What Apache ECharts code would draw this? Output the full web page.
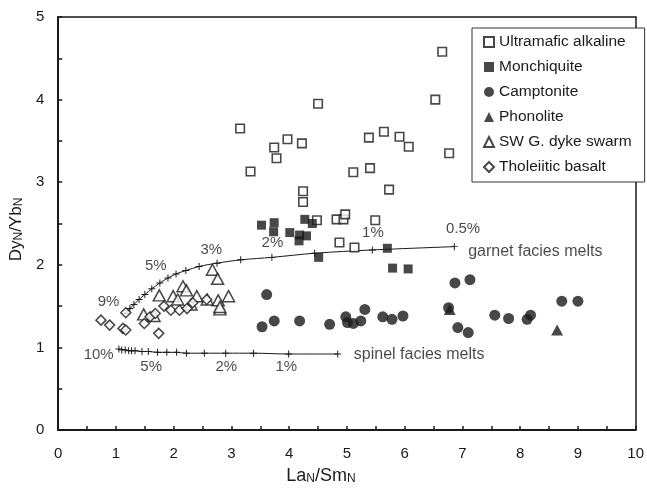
<!DOCTYPE html>
<html>
<head>
<meta charset="utf-8">
<script src="https://cdn.jsdelivr.net/npm/echarts@6/dist/echarts.min.js"></script>
<style>
html,body{margin:0;padding:0;background:#fff;}
#chart{width:647px;height:490px;}
</style>
</head>
<body>
<div id="chart"></div>
<script>
// ---- data (La_N/Sm_N, Dy_N/Yb_N) ----
const ultraX = [3.15,3.33,3.74,3.78,3.97,4.22,4.24,4.24,4.50,4.48,4.82,4.94,4.97,4.87,5.13,5.11,5.40,5.38,5.64,5.91,6.07,5.73,5.49,6.53,6.65,6.77];
const ultraY = [3.65,3.13,3.42,3.29,3.52,3.47,2.89,2.76,3.95,2.54,2.55,2.55,2.61,2.27,2.21,3.12,3.17,3.54,3.61,3.55,3.43,2.91,2.54,4.00,4.58,3.35];

const monchX = [3.52,3.74,3.73,4.01,4.18,4.30,4.17,4.27,4.40,4.51,5.70,5.79,6.06];
const monchY = [2.48,2.51,2.40,2.39,2.36,2.35,2.29,2.55,2.50,2.09,2.20,1.96,1.95];

const camptX = [3.61,3.74,3.53,4.18,4.70,4.98,5.01,5.11,5.24,5.31,5.62,5.78,5.97,6.76,6.87,7.13,6.92,7.10,7.56,7.80,8.12,8.18,8.72,9.00];
const camptY = [1.64,1.32,1.25,1.32,1.28,1.37,1.30,1.29,1.32,1.46,1.37,1.34,1.38,1.48,1.78,1.82,1.24,1.18,1.39,1.35,1.34,1.39,1.56,1.56];

const phonoX = [6.78,8.64];
const phonoY = [1.46,1.21];

const swgX = [1.48,1.66,1.75,1.99,2.07,2.16,2.22,2.30,2.40,2.58,2.67,2.76,2.77,2.80,2.80,2.95];
const swgY = [1.40,1.38,1.63,1.62,1.58,1.74,1.69,1.52,1.62,1.58,1.94,1.83,1.57,1.46,1.49,1.62];

const tholX = [0.74,0.89,1.12,1.17,1.17,1.49,1.59,1.68,1.74,1.83,1.95,2.10,2.23,2.33,2.57];
const tholY = [1.33,1.27,1.23,1.21,1.42,1.29,1.37,1.41,1.17,1.50,1.45,1.45,1.47,1.54,1.58];

// melting curves
const garnetX = [1.17,1.24,1.31,1.40,1.50,1.62,1.76,1.90,2.04,2.21,2.44,2.75,3.16,3.70,4.44,5.44,6.86];
const garnetY = [1.41,1.47,1.52,1.58,1.64,1.71,1.78,1.84,1.89,1.93,1.98,2.02,2.06,2.09,2.14,2.18,2.22];

const spinelX = [1.05,1.10,1.16,1.22,1.27,1.33,1.45,1.56,1.72,1.88,2.05,2.22,2.53,2.90,3.38,3.99,4.84];
const spinelY = [0.98,0.97,0.97,0.96,0.96,0.96,0.95,0.95,0.94,0.94,0.94,0.93,0.93,0.93,0.93,0.92,0.92];

// curve annotations (centered)
const annoText = ['0.5%','1%','2%','3%','5%','9%','10%','5%','2%','1%'];
const annoX    = [7.01,5.45,3.71,2.65,1.69,0.87,0.70,1.61,2.91,3.95];
const annoY    = [2.44,2.39,2.27,2.18,1.99,1.55,0.91,0.77,0.77,0.77];
// curve names (left aligned)
const curveNameText = ['garnet facies melts','spinel facies melts'];
const curveNameX = [7.09,5.11];
const curveNameY = [2.16,0.91];

const xTicks = [0,1,2,3,4,5,6,7,8,9,10];
const yTicks = [0,1,2,3,4,5];

// ---- build ----
const zip = (xs, ys) => xs.map((x, i) => [x, ys[i]]);
const FONT = '"Liberation Sans", Arial, Helvetica, sans-serif';
const INK = '#1a1a1a';
const plusPath = 'path://M4.3,0H5.7V4.3H10V5.7H5.7V10H4.3V5.7H0V4.3H4.3Z';

const chart = echarts.init(document.getElementById('chart'), null, {renderer: 'canvas'});

const intFmt = v => (Math.abs(v - Math.round(v)) < 1e-9 ? String(Math.round(v)) : '');

const option = {
  backgroundColor: '#fff',
  animation: false,
  textStyle: {fontFamily: FONT},
  grid: {left: 52, right: 10, top: 17, bottom: 56},
  legend: {
    orient: 'vertical',
    left: 472, top: 28,
    padding: [6, 13, 7, 11],
    itemGap: 9,
    itemWidth: 10, itemHeight: 10,
    borderColor: '#333', borderWidth: 1,
    backgroundColor: '#fff',
    textStyle: {fontFamily: FONT, fontSize: 15.5, color: INK, lineHeight: 16},
    data: ['Ultramafic alkaline','Monchiquite','Camptonite','Phonolite','SW G. dyke swarm','Tholeiitic basalt'],
    selectedMode: false
  },
  xAxis: [{
    type: 'value', min: 0, max: 10, interval: 0.5,
    name: '{a|La}{s|N}{a|/Sm}{s|N}', nameLocation: 'middle', nameGap: 33,
    nameTextStyle: {padding: [0, 52, 0, 0], rich: {a: {fontSize: 18, fontFamily: FONT, color: INK, verticalAlign: 'bottom', lineHeight: 22}, s: {fontSize: 12, fontFamily: FONT, color: INK, verticalAlign: 'bottom', lineHeight: 17}}},
    axisLine: {show: true, onZero: false, lineStyle: {color: INK, width: 2}},
    axisTick: {show: true, inside: true, length: 4, lineStyle: {color: INK, width: 1.5}},
    axisLabel: {show: true, margin: 16, fontSize: 15, color: INK, fontFamily: FONT, formatter: intFmt},
    splitLine: {show: false}
  }, {
    type: 'value', min: 0, max: 10, position: 'top',
    axisLine: {show: true, onZero: false, lineStyle: {color: INK, width: 1.5}},
    axisTick: {show: false}, axisLabel: {show: false}, splitLine: {show: false}
  }],
  yAxis: [{
    type: 'value', min: 0, max: 5, interval: 0.5,
    name: '{a|Dy}{s|N}{a|/Yb}{s|N}', nameLocation: 'middle', nameGap: 26, nameRotate: 90,
    nameTextStyle: {padding: [0, 12, 0, 0], rich: {a: {fontSize: 17, fontFamily: FONT, color: INK, verticalAlign: 'bottom', lineHeight: 21}, s: {fontSize: 12, fontFamily: FONT, color: INK, verticalAlign: 'bottom', lineHeight: 16}}},
    axisLine: {show: true, onZero: false, lineStyle: {color: INK, width: 2}},
    axisTick: {show: true, inside: true, length: 4, lineStyle: {color: INK, width: 1.5}},
    axisLabel: {show: true, margin: 14, fontSize: 15, color: INK, fontFamily: FONT, formatter: intFmt},
    splitLine: {show: false}
  }, {
    type: 'value', min: 0, max: 5, position: 'right',
    axisLine: {show: true, onZero: false, lineStyle: {color: INK, width: 1.5}},
    axisTick: {show: false}, axisLabel: {show: false}, splitLine: {show: false}
  }],
  series: [
    {
      name: 'garnet', type: 'line', data: zip(garnetX, garnetY), smooth: 0.3,
      symbol: plusPath, symbolSize: 7, showSymbol: true,
      lineStyle: {color: INK, width: 1}, itemStyle: {color: INK, borderWidth: 0},
      silent: true, z: 2
    },
    {
      name: 'spinel', type: 'line', data: zip(spinelX, spinelY), smooth: 0.3,
      symbol: plusPath, symbolSize: 7, showSymbol: true,
      lineStyle: {color: INK, width: 1}, itemStyle: {color: INK, borderWidth: 0},
      silent: true, z: 2
    },
    {
      name: 'Ultramafic alkaline', type: 'scatter', symbol: 'rect', symbolSize: 8.5,
      data: zip(ultraX, ultraY),
      itemStyle: {color: '#fff', borderColor: INK, borderWidth: 1.6}, z: 3
    },
    {
      name: 'Monchiquite', type: 'scatter', symbol: 'rect', symbolSize: 9,
      data: zip(monchX, monchY),
      itemStyle: {color: INK, borderColor: INK, borderWidth: 0}, z: 4
    },
    {
      name: 'Camptonite', type: 'scatter', symbol: 'circle', symbolSize: 11,
      data: zip(camptX, camptY),
      itemStyle: {color: INK, borderWidth: 0}, z: 4
    },
    {
      name: 'Phonolite', type: 'scatter', symbol: 'triangle', symbolSize: [12, 11],
      data: zip(phonoX, phonoY),
      itemStyle: {color: INK, borderWidth: 0}, z: 5
    },
    {
      name: 'SW G. dyke swarm', type: 'scatter', symbol: 'triangle', symbolSize: [12, 11],
      data: zip(swgX, swgY),
      itemStyle: {color: '#fff', borderColor: INK, borderWidth: 1.5}, z: 3
    },
    {
      name: 'Tholeiitic basalt', type: 'scatter', symbol: 'diamond', symbolSize: 10,
      data: zip(tholX, tholY),
      itemStyle: {color: '#fff', borderColor: INK, borderWidth: 1.5}, z: 3
    },
    {
      name: 'anno', type: 'scatter', symbolSize: 1, silent: true, z: 6,
      data: annoX.map((x, i) => [x, annoY[i], annoText[i]]),
      itemStyle: {color: 'rgba(0,0,0,0)'},
      label: {show: true, position: 'inside', formatter: p => p.data[2], fontSize: 15, color: INK, fontFamily: FONT}
    },
    {
      name: 'curveNames', type: 'scatter', symbolSize: 1, silent: true, z: 6,
      data: curveNameX.map((x, i) => [x, curveNameY[i], curveNameText[i]]),
      itemStyle: {color: 'rgba(0,0,0,0)'},
      label: {show: true, position: 'right', distance: 0, formatter: p => p.data[2], fontSize: 16, color: INK, fontFamily: FONT}
    }
  ]
};
chart.setOption(option);
</script>
</body>
</html>
